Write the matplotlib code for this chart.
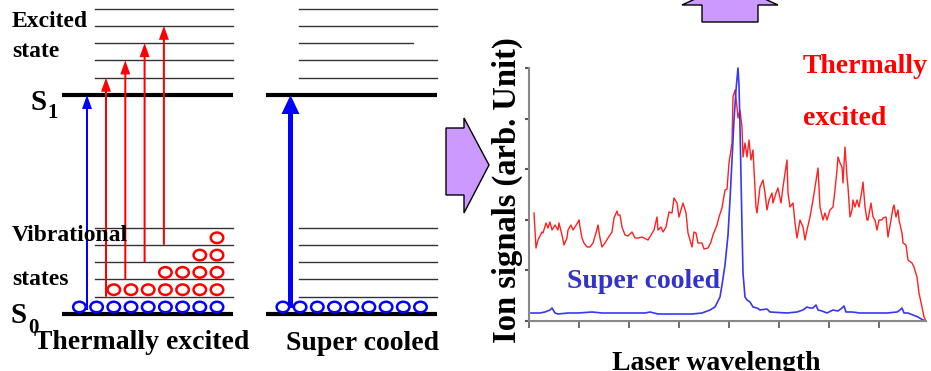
import matplotlib.pyplot as plt
from matplotlib.patches import Ellipse, Polygon, FancyArrow
import numpy as np

plt.rcParams['font.family'] = ['Liberation Serif', 'DejaVu Serif']
plt.rcParams['font.weight'] = 'bold'

# ion signal spectra (arb. units)
red_x = [5, 7, 9, 13, 14, 17, 19, 21, 23, 26, 29, 30, 33, 35, 38, 39, 42, 44, 46, 49,
         50, 51, 53, 55, 58, 61, 64, 67, 69, 71, 73, 76, 79, 83, 85, 88, 89, 91, 93, 96,
         99, 103, 106, 109, 113, 115, 119, 122, 125, 128, 129, 132, 134, 137, 140, 143, 145, 148, 150, 152,
         154, 157, 159, 161, 163, 165, 167, 169, 173, 175, 179, 182, 184, 188, 190, 193, 196, 198, 200, 203,
         204, 206, 208, 209, 211, 213, 214, 216, 218, 220, 222, 224, 225, 227, 228, 231, 234, 236, 238, 240,
         243, 244, 247, 249, 252, 254, 258, 259, 261, 264, 266, 268, 271, 274, 276, 278, 281, 284, 286, 289,
         291, 294, 296, 298, 301, 304, 306, 308, 309, 311, 313, 314, 316, 318, 319, 321, 323, 324, 326, 328,
         330, 333, 334, 336, 338, 339, 342, 344, 346, 348, 350, 353, 354, 357, 359, 362, 364, 365, 367, 369,
         370, 373, 374, 377, 379, 383, 385, 388, 390, 393, 395, 397]
red_y = [108, 73, 81, 89, 88, 98, 93, 99, 91, 96, 91, 98, 86, 76, 83, 91, 96, 91, 94, 99,
         101, 94, 83, 78, 74, 74, 78, 88, 96, 83, 74, 78, 83, 89, 103, 110, 106, 106, 94, 86,
         85, 89, 83, 83, 84, 83, 81, 86, 91, 104, 91, 94, 89, 94, 109, 108, 123, 118, 104, 111,
         118, 108, 88, 81, 74, 89, 88, 78, 78, 72, 73, 79, 86, 96, 104, 113, 131, 132, 158, 178,
         224, 231, 214, 203, 211, 194, 164, 178, 164, 181, 161, 171, 151, 114, 108, 134, 141, 128, 111, 121,
         128, 118, 128, 133, 118, 134, 161, 128, 114, 118, 98, 83, 101, 94, 81, 91, 104, 121, 134, 153,
         114, 101, 108, 101, 111, 114, 131, 151, 164, 158, 154, 138, 174, 144, 134, 104, 111, 121, 114, 121,
         114, 131, 139, 114, 101, 101, 118, 104, 101, 91, 101, 101, 103, 104, 84, 101, 113, 116, 104, 111,
         101, 88, 78, 76, 61, 58, 54, 44, 28, 14, 4, 0]

blue_x = [2, 6, 11, 16, 21, 23, 26, 29, 39, 49, 63, 73, 86, 99, 116, 121, 129, 146, 163, 173,
          181, 186, 191, 193, 196, 199, 201, 203, 205, 207, 209, 210, 211, 212, 213, 214, 216, 218, 221, 224,
          228, 231, 238, 241, 258, 268, 274, 278, 281, 284, 287, 289, 293, 298, 304, 309, 313, 315, 317, 323,
          331, 344, 358, 368, 371, 373, 375, 379, 384, 389, 394, 397]
blue_y = [8, 8, 8, 9, 11, 13, 8, 7, 8, 8, 9, 8, 8, 8, 8, 9, 7, 7, 7, 8,
          11, 14, 24, 36, 56, 86, 121, 161, 201, 231, 253, 236, 194, 144, 94, 48, 24, 21, 19, 14,
          13, 11, 12, 9, 8, 9, 11, 14, 13, 13, 16, 11, 10, 8, 11, 10, 13, 15, 9, 9,
          8, 8, 8, 9, 11, 13, 8, 8, 6, 4, 1, 0]

# molecules sitting on each vibrational level (ground first)
thermal_pop = [9, 7, 4, 2, 1, 0]
cooled_pop = [9, 0, 0, 0, 0, 0]

fig = plt.figure(figsize=(9.31, 3.71), dpi=100)

# schematic layer, one unit = one pixel
ov = fig.add_axes([0, 0, 1, 1])
ov.set_xlim(0, 931)
ov.set_ylim(371, 0)
ov.axis('off')

S0_y, S1_y, gap = 314, 95, 17.3
n_lev = 5


def draw_panel(dx, pop, thick_arrow, short_line=None):
    ov.plot([62 + dx, 233 + dx], [S0_y, S0_y], color='black', lw=3, solid_capstyle='butt')
    ov.plot([62 + dx, 233 + dx], [S1_y, S1_y], color='black', lw=3, solid_capstyle='butt')
    for i in range(n_lev):
        yv = S0_y - gap * (i + 1)
        ye = S1_y - gap * (i + 1)
        ov.plot([95 + dx, 233 + dx], [yv, yv], color='#333333', lw=1)
        xe = 233 + dx
        if short_line == i:
            xe = 209 + dx
        ov.plot([95 + dx, xe], [ye, ye], color='#333333', lw=1)
    # populations
    for k, n in enumerate(pop):
        lev_y = S0_y - gap * k
        col = 'blue' if k == 0 else 'red'
        for j in range(n):
            ov.add_patch(Ellipse((217 + dx - 17.2 * j, lev_y - 7), 12.5, 10.5,
                                 fill=False, ec=col, lw=1.8, zorder=4))
    # excitation arrows
    if thick_arrow:
        ov.add_patch(FancyArrow(87 + dx, S0_y - 6, 0, -(S0_y - 6 - S1_y), width=5,
                                head_width=18, head_length=19, length_includes_head=True,
                                color='blue', lw=0, zorder=5))
    else:
        ov.add_patch(FancyArrow(87 + dx, S0_y - 4, 0, -(S0_y - 4 - S1_y), width=2,
                                head_width=10, head_length=14, length_includes_head=True,
                                color='blue', lw=0, zorder=5))
        for k in range(1, 5):
            x = 106 + 19.3 * (k - 1) + dx
            y0 = S0_y - gap * k
            ov.add_patch(FancyArrow(x, y0, 0, -(S0_y - S1_y), width=2,
                                    head_width=10, head_length=14, length_includes_head=True,
                                    color='red', lw=0, zorder=5))


draw_panel(0, thermal_pop, False)
draw_panel(203.5, cooled_pop, True, short_line=2)

ov.text(12, 27, 'Excited', fontsize=17, va='baseline')
ov.text(12, 57, 'state', fontsize=17, va='baseline')
ov.text(12, 241, 'Vibrational', fontsize=17, va='baseline', zorder=6)
ov.text(12, 285, 'states', fontsize=17, va='baseline')
ov.text(31, 110, 'S', fontsize=21, va='baseline')
ov.text(47, 118, '1', fontsize=15, va='baseline')
ov.text(11, 323, 'S', fontsize=21, va='baseline')
ov.text(28, 333, '0', fontsize=15, va='baseline')
ov.text(142, 349, 'Thermally excited', fontsize=20, ha='center', va='baseline')
ov.text(363, 350, 'Super cooled', fontsize=20, ha='center', va='baseline')

# purple block arrows
ov.add_patch(Polygon([(446, 128), (464, 128), (464, 118), (489, 165), (464, 213),
                      (464, 195), (446, 195)], closed=True, fc='#cc99ff', ec='black', lw=1))
ov.add_patch(Polygon([(702, 22), (758, 22), (758, 5), (778, 5), (730, -17),
                      (682, 5), (702, 5)], closed=True, fc='#cc99ff', ec='black', lw=1))

# spectrum
ax = fig.add_axes([529 / 931, 50 / 371, 397 / 931, 253 / 371])
ax.patch.set_alpha(0)
ax.plot(red_x, red_y, color='#ff2020', lw=1.0)
ax.plot(blue_x, blue_y, color='#3838ee', lw=1.2, clip_on=False)
ax.set_xlim(0, 397)
ax.set_ylim(0, 253)
ax.set_xticks(np.arange(0, 400, 50))
ax.set_yticks(np.linspace(0, 253, 6))
ax.tick_params(labelbottom=False, labelleft=False, direction='out', color='#555555')
ax.tick_params(axis='x', length=5, width=1.2)
ax.tick_params(axis='y', length=3, width=1.5)
for s in ['top', 'right']:
    ax.spines[s].set_visible(False)
for s in ['left', 'bottom']:
    ax.spines[s].set_color('#888888')
    ax.spines[s].set_linewidth(1.5)

ov.text(507, 190, 'Ion signals (arb. Unit)', fontsize=23.5, rotation=90, ha='center', va='center')
ov.text(716, 370, 'Laser wavelength', fontsize=20, ha='center', va='baseline')
ov.text(803, 73, 'Thermally', fontsize=20, color='red', va='baseline')
ov.text(803, 125, 'excited', fontsize=20, color='red', va='baseline')
ov.text(644, 288, 'Super cooled', fontsize=20, color='#3333cc', ha='center', va='baseline')

fig.savefig('out.png', dpi=100)
